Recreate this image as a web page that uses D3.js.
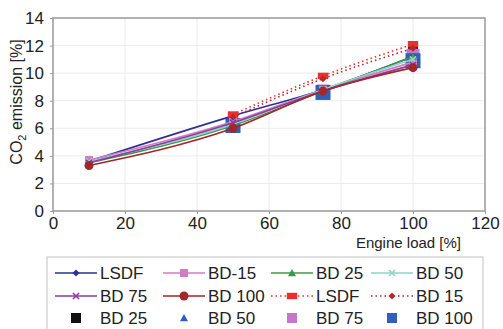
<!DOCTYPE html>
<html>
<head>
<meta charset="utf-8">
<script src="https://cdn.jsdelivr.net/npm/d3@7.9.0/dist/d3.min.js"></script>
<style>
  body { margin: 0; background: #fff; }
  svg { display: block; font-family: "Liberation Sans", Arial, sans-serif; }
</style>
</head>
<body>
<svg id="chart" width="503" height="329"></svg>
<script>
// engine loads and CO2 readings (%); null = not measured at that load
const loads = [10, 50, 75, 100];
const lsdf   = [3.6, 6.9, 8.8, 11.2];
const bd15   = [3.7, 6.5, 8.8, 10.8];
const bd25   = [3.5, 6.2, 8.7, 11.2];
const bd50   = [3.6, 6.3, 8.8, 11.0];
const bd75   = [3.5, 6.4, 8.7, 10.6];
const bd100  = [3.3, 6.0, 8.7, 10.4];
const lsdfB  = [null, 7.0, 9.8, 12.1];
const bd15B  = [null, 6.8, 9.6, 11.8];
const bd25C  = [null, 6.3, 8.7, 11.8];
const bd50C  = [null, 6.2, 8.6, 11.3];
const bd75C  = [null, 6.3, 8.7, 11.3];
const bd100C = [null, 6.2, 8.6, 10.9];
const xTicks = [0, 20, 40, 60, 80, 100, 120];
const yTicks = [0, 2, 4, 6, 8, 10, 12, 14];

// line style / marker per series
const series = [
  {name: 'LSDF',   vals: lsdf,   color: '#2e3192', line: 'solid',  mark: 'diamond', ms: 3.5},
  {name: 'BD-15',  vals: bd15,   color: '#d27cc4', line: 'solid',  mark: 'square',  ms: 4},
  {name: 'BD 25',  vals: bd25,   color: '#3a9a4a', line: 'solid',  mark: 'triangle', ms: 4},
  {name: 'BD 50',  vals: bd50,   color: '#8fd3cc', line: 'solid',  mark: 'cross',   ms: 3},
  {name: 'BD 75',  vals: bd75,   color: '#8e3a9e', line: 'solid',  mark: 'cross',   ms: 3},
  {name: 'BD 100', vals: bd100,  color: '#a3262a', line: 'solid',  mark: 'circle',  ms: 4.5},
  {name: 'LSDF',   vals: lsdfB,  color: '#e8302c', line: 'dotted', mark: 'rect',    ms: 4},
  {name: 'BD 15',  vals: bd15B,  color: '#b02a2e', line: 'dotted', mark: 'diamond', ms: 3.5},
  {name: 'BD 25',  vals: bd25C,  color: '#111111', line: 'none',   mark: 'square',  ms: 5},
  {name: 'BD 50',  vals: bd50C,  color: '#2a62b8', line: 'none',   mark: 'triangle', ms: 4},
  {name: 'BD 75',  vals: bd75C,  color: '#c377c8', line: 'none',   mark: 'square',  ms: 6.5},
  {name: 'BD 100', vals: bd100C, color: '#2f5fba', line: 'none',   mark: 'square',  ms: 7.5}
];

const svg = d3.select('#chart');
const x = d3.scaleLinear().domain([0, 120]).range([53, 485]);
const y = d3.scaleLinear().domain([0, 14]).range([211, 18]);

// faint grid
svg.append('g').selectAll('line').data(xTicks.slice(1, -1)).join('line')
  .attr('x1', d => x(d)).attr('x2', d => x(d)).attr('y1', y(0)).attr('y2', y(14))
  .attr('stroke', '#ececec').attr('stroke-width', 1);
svg.append('g').selectAll('line').data(yTicks.slice(1, -1)).join('line')
  .attr('x1', x(0)).attr('x2', x(120)).attr('y1', d => y(d)).attr('y2', d => y(d))
  .attr('stroke', '#ececec').attr('stroke-width', 1);

// frame
svg.append('rect').attr('x', x(0)).attr('y', y(14))
  .attr('width', x(120) - x(0)).attr('height', y(0) - y(14))
  .attr('fill', 'none').attr('stroke', '#999').attr('stroke-width', 1.5);

// axes (labels only, frame drawn above)
const xAxis = svg.append('g').attr('transform', `translate(0,${y(0)})`)
  .call(d3.axisBottom(x).tickValues(xTicks).tickSize(3).tickPadding(3));
const yAxis = svg.append('g').attr('transform', `translate(${x(0)},0)`)
  .call(d3.axisLeft(y).tickValues(yTicks).tickSize(3).tickPadding(6));
[xAxis, yAxis].forEach(a => {
  a.select('.domain').remove();
  a.selectAll('.tick line').attr('stroke', '#999');
  a.selectAll('text').attr('font-size', 17).attr('fill', '#222')
    .attr('font-family', '"Liberation Sans", Arial, sans-serif');
});

svg.append('text').attr('x', 461).attr('y', 248).attr('text-anchor', 'end')
  .attr('font-size', 15).attr('fill', '#222').text('Engine load [%]');

const yl = svg.append('text').attr('transform', 'translate(22,102) rotate(-90)')
  .attr('text-anchor', 'middle').attr('font-size', 16).attr('fill', '#222');
yl.append('tspan').text('CO');
yl.append('tspan').attr('font-size', 11).attr('dy', 4).text('2');
yl.append('tspan').attr('dy', -4).text(' emission [%]');

function marker(g, type, cx, cy, s, color) {
  if (type === 'square') g.append('rect').attr('x', cx - s).attr('y', cy - s).attr('width', 2 * s).attr('height', 2 * s).attr('fill', color);
  else if (type === 'rect') g.append('rect').attr('x', cx - s * 1.3).attr('y', cy - s * 0.8).attr('width', 2.6 * s).attr('height', 1.6 * s).attr('fill', color);
  else if (type === 'circle') g.append('circle').attr('cx', cx).attr('cy', cy).attr('r', s).attr('fill', color);
  else if (type === 'diamond') g.append('path').attr('d', `M${cx},${cy - s}L${cx + s},${cy}L${cx},${cy + s}L${cx - s},${cy}Z`).attr('fill', color);
  else if (type === 'triangle') g.append('path').attr('d', `M${cx},${cy - s}L${cx + s},${cy + s * 0.8}L${cx - s},${cy + s * 0.8}Z`).attr('fill', color);
  else if (type === 'cross') g.append('path').attr('d', `M${cx - s},${cy - s}L${cx + s},${cy + s}M${cx - s},${cy + s}L${cx + s},${cy - s}`).attr('stroke', color).attr('stroke-width', 1.6);
}

const line = d3.line().defined(d => d != null)
  .x((d, i) => x(loads[i])).y(d => y(d)).curve(d3.curveMonotoneX);
const plot = svg.append('g');
// scatter first (drawn under the lines), then lines
[...series].sort((a, b) => (a.line === 'none' ? 0 : 1) - (b.line === 'none' ? 0 : 1)).forEach(s => {
  const g = plot.append('g');
  if (s.line !== 'none') {
    g.append('path').attr('d', line(s.vals)).attr('fill', 'none').attr('stroke', s.color)
      .attr('stroke-width', 1.6)
      .attr('stroke-dasharray', s.line === 'dotted' ? '1.5,3' : null);
  }
  s.vals.forEach((v, i) => { if (v != null) marker(g, s.mark, x(loads[i]), y(v), s.ms, s.color); });
});

// legend
const lg = svg.append('g');
lg.append('rect').attr('x', 47).attr('y', 257).attr('width', 436).attr('height', 90)
  .attr('fill', '#fff').attr('stroke', '#ccc').attr('stroke-width', 1.2);
const colX = [55, 163, 271, 371];
const rowY = [273, 296, 318];
series.forEach((s, i) => {
  const cx = colX[i % 4], cy = rowY[Math.floor(i / 4)];
  const item = lg.append('g');
  if (s.line !== 'none') {
    item.append('line').attr('x1', cx).attr('x2', cx + 42).attr('y1', cy).attr('y2', cy)
      .attr('stroke', s.color).attr('stroke-width', 1.6)
      .attr('stroke-dasharray', s.line === 'dotted' ? '1.5,3' : null);
  }
  marker(item, s.mark, cx + 21, cy, s.line === 'none' ? Math.min(s.ms, 5) : s.ms, s.color);
  item.append('text').attr('x', cx + 45).attr('y', cy + 6).attr('font-size', 17)
    .attr('fill', '#222').text(s.name);
});
</script>
</body>
</html>
